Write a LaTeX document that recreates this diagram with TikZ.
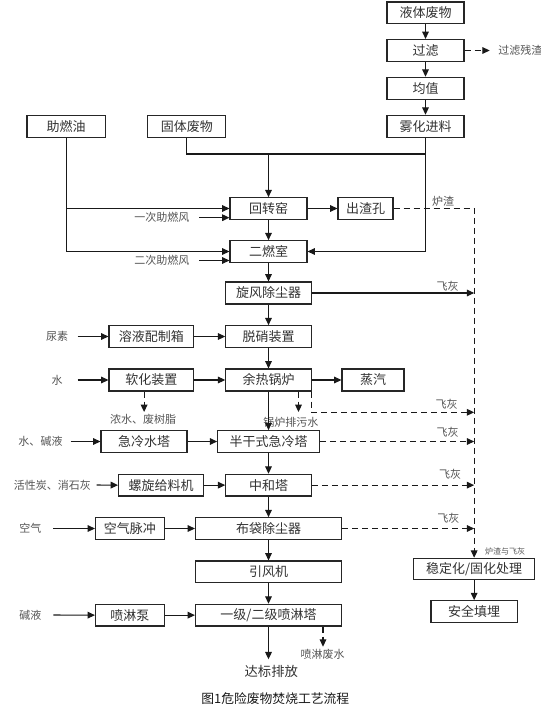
\documentclass[tikz,border=0pt]{standalone}
\usepackage{fontspec}
\setmainfont{Noto Sans CJK SC}
\usetikzlibrary{arrows.meta}
\definecolor{boxtxt}{HTML}{333333}
\definecolor{lbltxt}{HTML}{555555}
\newcommand\mybox[6]{\node[box, minimum width={(#4-#2)*0.75pt}, minimum height={(#5-#3)*0.75pt}] (#1) at ({(#2+#4)/2},{(#3+#5)/2}) {#6};}
\begin{document}
\begin{tikzpicture}[x=0.75pt,y=-0.75pt,
  box/.style={draw=black!85, line width=0.85pt, inner sep=0pt, text=boxtxt, font=\fontsize{9.75pt}{10pt}\selectfont},
  txt/.style={inner sep=0pt, text=boxtxt, font=\fontsize{10pt}{11pt}\selectfont},
  lbl/.style={inner sep=0pt, text=lbltxt, font=\fontsize{8.25pt}{9pt}\selectfont},
  tinylbl/.style={inner sep=0pt, text=lbltxt, font=\fontsize{6pt}{7pt}\selectfont},
  captxt/.style={inner sep=0pt, text=black!90, font=\fontsize{9.6pt}{10pt}\selectfont},
  ln/.style={line width=0.8pt, draw=black!90},
  arr/.style={line width=0.8pt, draw=black!90, -{Triangle[length=5.5pt,width=5pt]}},
  darr/.style={arr, dash pattern=on 4.5pt off 3pt},
]
\fill[white] (0,0) rectangle (541,709);
\useasboundingbox (0,0) rectangle (541,709);

\mybox{ye}{387}{2}{464}{23.5}{液体废物}
\mybox{gl}{387}{39.5}{464}{61.5}{过滤}
\mybox{jz}{387}{77.3}{464}{99.3}{均值}
\mybox{wh}{387}{115.3}{464}{137.3}{雾化进料}
\mybox{zr}{27}{115.3}{105.2}{137.3}{助燃油}
\mybox{gt}{147.6}{115.3}{225.9}{137.3}{固体废物}
\mybox{hz}{230}{197.7}{307}{219.3}{回转窑}
\mybox{cz}{338}{197.7}{393}{219.3}{出渣孔}
\mybox{er}{230}{240.7}{307}{262.3}{二燃室}
\mybox{xf}{225.8}{282}{311.2}{304}{旋风除尘器}
\mybox{ry}{109}{325.7}{193.8}{347.3}{溶液配制箱}
\mybox{tx}{225.8}{325.7}{311.2}{347.3}{脱硝装置}
\mybox{rh}{109}{369}{193.8}{391}{软化装置}
\mybox{yr}{225.8}{369}{311.2}{391}{余热锅炉}
\mybox{zq}{342}{369}{404}{391}{蒸汽}
\mybox{jl}{101}{430.7}{187}{452.3}{急冷水塔}
\mybox{bg}{217.7}{430.7}{319.3}{452.3}{半干式急冷塔}
\mybox{lx}{118.6}{474.3}{203.4}{496}{螺旋给料机}
\mybox{zh}{225.8}{474.3}{311.2}{496}{中和塔}
\mybox{kq}{95.5}{517.7}{164.1}{539.3}{空气脉冲}
\mybox{bd}{195.5}{517.7}{341.5}{539.3}{布袋除尘器}
\mybox{yf}{195.5}{561}{341.5}{582.7}{引风机}
\mybox{pt}{195.5}{604.3}{341.5}{626}{一级/二级喷淋塔}
\mybox{pb}{95.5}{604.3}{164.1}{626}{喷淋泵}
\mybox{wd}{413.8}{558.3}{534.5}{579.5}{稳定化/固化处理}
\mybox{aq}{431}{600.7}{517.2}{622.7}{安全填埋}

% labels
\node[lbl] (lzc) at (443,201.5) {炉渣};
\node[lbl] (fh1) at (447.6,286) {飞灰};
\node[lbl] (fh2) at (446.6,404.3) {飞灰};
\node[lbl] (fh3) at (447.6,432.3) {飞灰};
\node[lbl] (fh4) at (450,474.3) {飞灰};
\node[lbl] (fh5) at (448.3,518.3) {飞灰};
\node[tinylbl] (lzf) at (505,551) {炉渣与飞灰};
\node[lbl, anchor=west] (glcz) at (498,50.5) {过滤残渣};
\node[lbl, anchor=east] (yc) at (189.7,217.7) {一次助燃风};
\node[lbl, anchor=east] (ec) at (189.7,260.5) {二次助燃风};
\node[lbl] (ns) at (57,336.5) {尿素};
\node[lbl] (sw) at (57,380) {水};
\node[lbl] (nsz) at (143,419) {浓水、废树脂};
\node[lbl, anchor=west] (glps) at (263,422.3) {锅炉排污水};
\node[lbl] (sjy) at (40.5,441.5) {水、碱液};
\node[lbl] (hxt) at (52.4,485) {活性炭、消石灰};
\node[lbl] (kqi) at (30.3,528.5) {空气};
\node[lbl] (jy) at (30.3,615) {碱液};
\node[lbl] (plfs) at (322.7,654.3) {喷淋废水};
\node[txt] (dbpf) at (271.3,671) {达标排放};
\node[captxt] (caption) at (275.3,698.3) {图1危险废物焚烧工艺流程};

% free ends
\coordinate (glend) at (489.7,50.5);
\coordinate (j1) at (268.5,154);
\coordinate (a1s) at (199,217.7);
\coordinate (a2s) at (199,260.5);
\coordinate (nss) at (77.6,336.5);
\coordinate (sws) at (77.6,380);
\coordinate (rhd) at (144.1,412);
\coordinate (yrd) at (298.5,412);
\coordinate (yrc) at (474.15,412.3);
\coordinate (sjs) at (70.7,441.5);
\coordinate (hxs) at (96.6,485);
\coordinate (kqs) at (53.4,528.5);
\coordinate (jys) at (53.4,615);
\coordinate (ptd) at (323,646.7);
\coordinate (pts) at (268.5,659.3);

% connectors
\draw[arr] (ye) -- (gl);
\draw[arr] (gl) -- (jz);
\draw[arr] (jz) -- (wh);
\draw[darr] (gl.east) -- (glend);
\draw[ln] (gt.south) |- (wh.south |- j1);
\draw[arr] (j1) -- (hz.north);
\draw[arr] (wh.south) |- (er.east);
\draw[arr] (zr.south) |- (er.west);
\draw[arr] (zr.south |- hz.west) -- (hz.west);
\draw[arr] (a1s) -- (a1s -| hz.west);
\draw[arr] (a2s) -- (a2s -| er.west);
\draw[arr] (hz.east) -- (cz.west);
\draw[arr] (hz.south) -- (er.north);
\draw[darr] (cz.east) -| (wd.north);
\draw[arr] (er.south) -- (er.south |- xf.north);
\draw[arr] (xf.east) -- (xf.east -| wd.north);
\draw[arr] (xf.south) -- (xf.south |- tx.north);
\draw[arr] (nss) -- (ry.west);
\draw[arr] (ry.east) -- (ry.east -| tx.west);
\draw[arr] (tx.south) -- (tx.south |- yr.north);
\draw[arr] (sws) -- (rh.west);
\draw[arr] (rh.east) -- (rh.east -| yr.west);
\draw[arr] (yr.east) -- (yr.east -| zq.west);
\draw[darr] (rh.south -| rhd) -- (rhd);
\draw[darr] (yr.south -| yrd) -- (yrd);
\draw[darr] (yr.south east) |- (yrc);
\draw[arr] (yr.south) -- (yr.south |- bg.north);
\draw[arr] (sjs) -- (jl.west);
\draw[arr] (jl.east) -- (jl.east -| bg.west);
\draw[darr] (bg.east) -- (bg.east -| wd.north);
\draw[arr] (bg.south) -- (bg.south |- zh.north);
\draw[arr] (hxs) -- (lx.west);
\draw[arr] (lx.east) -- (lx.east -| zh.west);
\draw[darr] (zh.east) -- (zh.east -| wd.north);
\draw[arr] (zh.south) -- (zh.south |- bd.north);
\draw[arr] (kqs) -- (kq.west);
\draw[arr] (kq.east) -- (kq.east -| bd.west);
\draw[darr] (bd.east) -- (bd.east -| wd.north);
\draw[arr] (bd.south) -- (bd.south |- yf.north);
\draw[arr] (yf.south) -- (yf.south |- pt.north);
\draw[arr] (jys) -- (pb.west);
\draw[arr] (pb.east) -- (pb.east -| pt.west);
\draw[darr] (pt.south -| ptd) -- (ptd);
\draw[arr] (pt.south -| pts) -- (pts);
\draw[arr] (wd.south) -- (wd.south |- aq.north);
\end{tikzpicture}
\end{document}
